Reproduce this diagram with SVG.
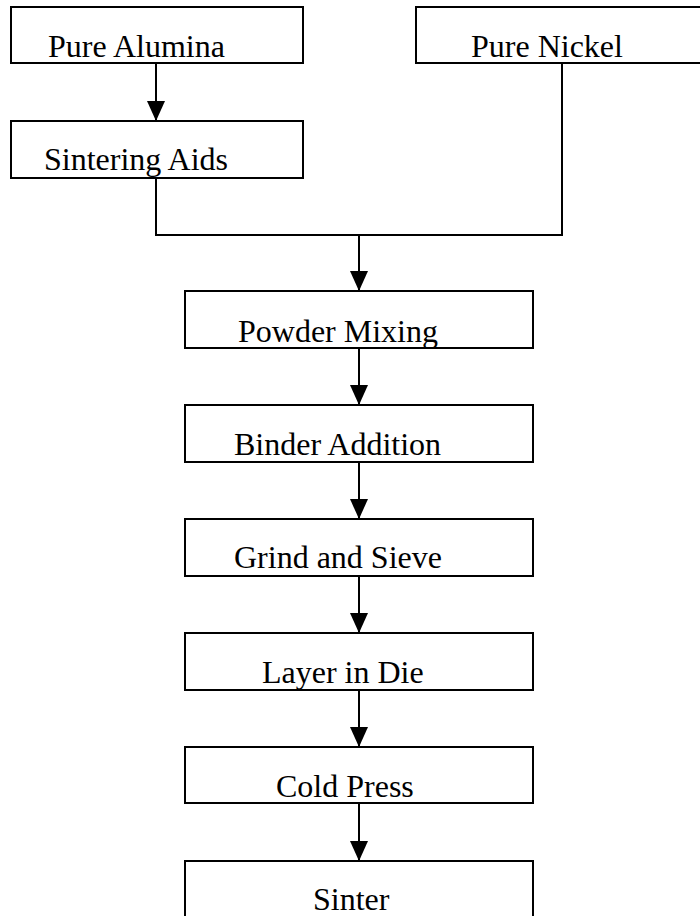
<svg xmlns="http://www.w3.org/2000/svg" width="700" height="916" viewBox="0 0 700 916">
  <style>
    .box { fill: #ffffff; stroke: #000000; stroke-width: 2; }
    .lbl { font-family: "Liberation Serif", "Times New Roman", serif; font-size: 32px; fill: #000000; }
    .wire { fill: none; stroke: #000000; stroke-width: 2; }
  </style>
  <defs>
    <marker id="arrow" markerUnits="userSpaceOnUse" markerWidth="20" markerHeight="20" viewBox="0 0 20 18" refX="20" refY="9" orient="auto">
      <path d="M0,0 L20,9 L0,18 Z" fill="#000000"/>
    </marker>
  </defs>

  <g id="connectors">
    <line class="wire" x1="156" y1="63" x2="156" y2="121" marker-end="url(#arrow)"/>
    <path class="wire" d="M156,178 V235 H562 V63"/>
    <line class="wire" x1="359" y1="235" x2="359" y2="291" marker-end="url(#arrow)"/>
    <line class="wire" x1="359" y1="348" x2="359" y2="405" marker-end="url(#arrow)"/>
    <line class="wire" x1="359" y1="462" x2="359" y2="519" marker-end="url(#arrow)"/>
    <line class="wire" x1="359" y1="576" x2="359" y2="633" marker-end="url(#arrow)"/>
    <line class="wire" x1="359" y1="690" x2="359" y2="747" marker-end="url(#arrow)"/>
    <line class="wire" x1="359" y1="803" x2="359" y2="861" marker-end="url(#arrow)"/>
  </g>

  <g id="pure-alumina">
    <rect class="box" x="11" y="7" width="292" height="56"/>
    <text class="lbl" x="48" y="57">Pure Alumina</text>
  </g>
  <g id="pure-nickel">
    <rect class="box" x="416" y="7" width="300" height="56"/>
    <text class="lbl" x="471" y="57">Pure Nickel</text>
  </g>
  <g id="sintering-aids">
    <rect class="box" x="11" y="121" width="292" height="57"/>
    <text class="lbl" x="44" y="170">Sintering Aids</text>
  </g>
  <g id="powder-mixing">
    <rect class="box" x="185" y="291" width="348" height="57"/>
    <text class="lbl" x="238" y="342">Powder Mixing</text>
  </g>
  <g id="binder-addition">
    <rect class="box" x="185" y="405" width="348" height="57"/>
    <text class="lbl" x="234" y="455">Binder Addition</text>
  </g>
  <g id="grind-and-sieve">
    <rect class="box" x="185" y="519" width="348" height="57"/>
    <text class="lbl" x="234" y="568">Grind and Sieve</text>
  </g>
  <g id="layer-in-die">
    <rect class="box" x="185" y="633" width="348" height="57"/>
    <text class="lbl" x="262" y="683">Layer in Die</text>
  </g>
  <g id="cold-press">
    <rect class="box" x="185" y="747" width="348" height="56"/>
    <text class="lbl" x="276" y="797">Cold Press</text>
  </g>
  <g id="sinter">
    <rect class="box" x="185" y="861" width="348" height="80"/>
    <text class="lbl" x="313" y="910">Sinter</text>
  </g>
</svg>
